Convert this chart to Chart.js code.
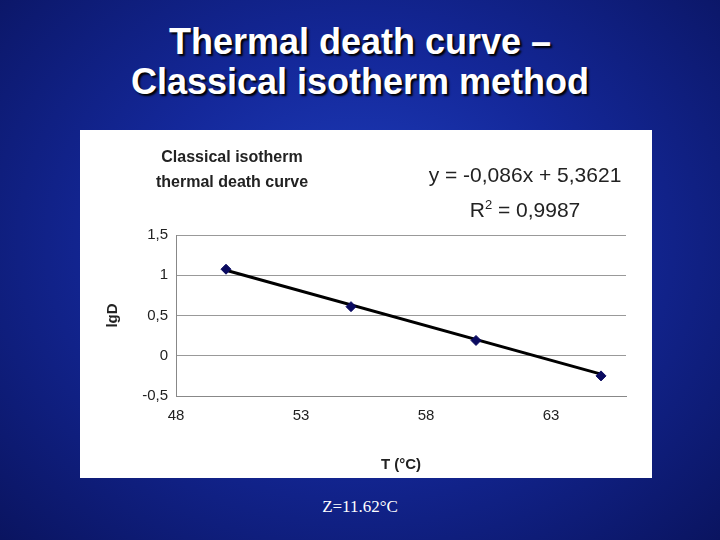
<!DOCTYPE html>
<html><head><meta charset="utf-8">
<script src="https://cdn.jsdelivr.net/npm/chart.js@4"></script>
<style>
body{margin:0;width:720px;height:540px;overflow:hidden;position:relative;
background:radial-gradient(ellipse at 50% 45%,#1f3fc0 0%,#14289a 45%,#0a1460 100%);font-family:"Liberation Sans",Arial,sans-serif;}
#t{position:absolute;top:22px;left:0;width:720px;text-align:center;color:#fff;font-weight:bold;font-size:36px;line-height:40px;text-shadow:2px 2px 2px #000;}
#box{position:absolute;left:80px;top:130px;width:572px;height:348px;background:#fff;}
#ct{position:absolute;left:52px;top:14px;width:200px;text-align:center;font-weight:bold;font-size:16px;line-height:25px;color:#222;}
#eq{position:absolute;left:330px;top:30px;width:230px;text-align:center;font-size:21px;line-height:30px;color:#222;}
#z{position:absolute;top:497px;left:0;width:720px;text-align:center;color:#fff;font-family:"Liberation Serif",serif;font-size:17px;}
</style></head><body>
<div id="t">Thermal death curve –<br>Classical isotherm method</div>
<div id="box"><canvas id="c" width="572" height="348"></canvas>
<div id="ct">Classical isotherm<br>thermal death curve</div>
<div id="eq">y = -0,086x + 5,3621<br>R<sup style="font-size:13px">2</sup> = 0,9987</div></div>
<div id="z">Z=11.62°C</div>
<script>
const temps=[50,55,60,65];
const lgD=[1.075,0.61,0.19,-0.25];
const trendX=[50,65];
const trendY=[1.062,-0.228];
const xTicks=[48,53,58,63];
const yTicks=[-0.5,0,0.5,1,1.5];
new Chart(document.getElementById('c'),{
type:'scatter',
data:{datasets:[
{data:temps.map((x,i)=>({x,y:lgD[i]})),backgroundColor:'#0a0a60',borderColor:'#0a0a60',pointStyle:'rectRot',pointRadius:5},
{type:'line',data:trendX.map((x,i)=>({x,y:trendY[i]})),borderColor:'#000',borderWidth:3,pointRadius:0,showLine:true}
]},
options:{responsive:false,animation:false,
layout:{padding:{top:105,right:26,left:0,bottom:0}},
plugins:{legend:{display:false},tooltip:{enabled:false}},
scales:{
x:{type:'linear',min:48,max:66,afterBuildTicks:s=>{s.ticks=xTicks.map(v=>({value:v}));},
afterFit:s=>{s.height=82;},
grid:{display:false},border:{color:'#888'},
ticks:{color:'#222',font:{size:15,family:'Liberation Sans'}},
title:{display:true,text:'T (°C)',color:'#222',font:{size:15,weight:'bold',family:'Liberation Sans'},padding:{top:8}}},
y:{min:-0.5,max:1.5,afterBuildTicks:s=>{s.ticks=yTicks.map(v=>({value:v}));},
afterFit:s=>{s.width=96;},
grid:{color:'#999',drawTicks:false},border:{color:'#888'},
ticks:{color:'#222',padding:8,font:{size:15,family:'Liberation Sans'},callback:v=>String(v).replace('.',',')},
title:{display:true,text:'lgD',color:'#222',font:{size:15,weight:'bold',family:'Liberation Sans'},padding:{top:24,bottom:0}}}
}}});
</script></body></html>
